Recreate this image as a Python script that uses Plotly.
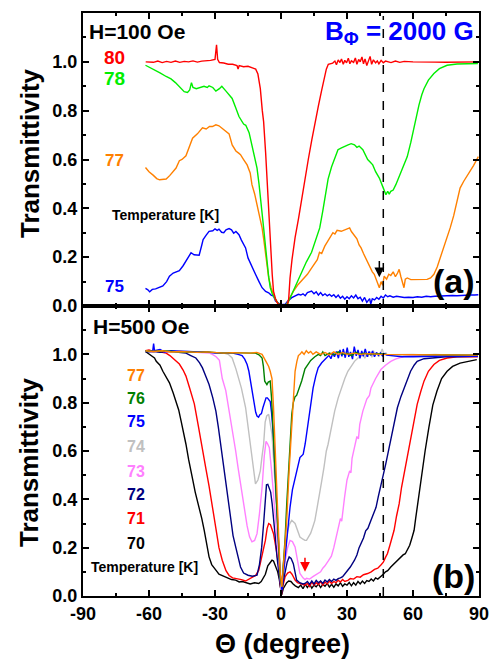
import plotly.graph_objects as go
from plotly.subplots import make_subplots

# ---------------- data: (theta [deg], transmittivity) ----------------
# Panel (a): H = 100 Oe
t80 = [(-61.5, 1.0), (-58, 0.998), (-56, 1.003), (-54, 0.997), (-52, 1.002), (-50, 0.998), (-48, 1.003),
       (-46, 0.998), (-44, 1.002), (-42, 1.0), (-40, 1.004), (-38, 0.999), (-36, 1.003), (-34, 1.004),
       (-32, 1.006), (-30, 1.01), (-29.3, 1.07), (-28.8, 1.01), (-28, 0.997), (-26, 0.995), (-24, 0.99),
       (-22, 0.99), (-20, 0.985), (-19.5, 0.97), (-19, 0.985), (-17, 0.98), (-15, 0.982), (-13, 0.975),
       (-11.5, 0.97), (-10.5, 0.95), (-9.4, 0.89), (-8.5, 0.8), (-7.9, 0.755), (-7, 0.63), (-6.4, 0.52),
       (-5.6, 0.38), (-4.9, 0.25), (-4, 0.13), (-3.4, 0.06), (-2.5, 0.03), (-1.5, 0.01), (0, 0.005),
       (1.5, 0.005), (3, 0.006), (3.5, 0.03), (4.1, 0.115), (5, 0.19), (6.4, 0.28), (8, 0.36), (9.4, 0.44),
       (11, 0.52), (12.4, 0.6), (14, 0.68), (15.4, 0.75), (17, 0.82), (18.4, 0.88), (19.5, 0.93),
       (20.6, 0.97), (21.5, 0.99), (22.8, 0.995), (23.5, 0.995), (24.5, 1.003), (25.2, 0.988),
       (26, 1.008), (26.8, 0.997), (27.5, 1.012), (28.3, 0.99), (29, 1.006), (29.8, 0.996),
       (30.6, 1.015), (31.3, 0.992), (32, 1.004), (33, 0.998), (33.8, 1.016), (34.5, 0.99),
       (35.3, 1.01), (36, 1.0), (36.8, 1.02), (37.5, 0.992), (38.2, 1.012), (39, 0.985), (39.8, 1.005),
       (40.5, 1.022), (41.2, 0.99), (42, 1.008), (43, 0.996), (43.8, 1.004), (44.5, 0.992),
       (45.5, 1.006), (46.5, 0.996), (47.5, 1.003), (50, 0.997), (52, 1.003), (54, 0.998), (56, 1.002),
       (60, 1.0), (65, 0.998), (70, 0.999), (75, 0.998), (80, 0.999), (85, 1.0), (90, 1.0)]

t78 = [(-61.6, 0.986), (-59, 0.975), (-57, 0.965), (-55, 0.955), (-52.2, 0.94), (-50, 0.93), (-48, 0.915),
       (-46, 0.895), (-44, 0.878), (-42.5, 0.875), (-41.5, 0.885), (-40.7, 0.915), (-40, 0.895),
       (-38.5, 0.89), (-37, 0.894), (-35, 0.9), (-33.5, 0.895), (-32.7, 0.902), (-31, 0.895),
       (-29.6, 0.88), (-28, 0.89), (-26.9, 0.9), (-25, 0.88), (-23.5, 0.862), (-22.2, 0.85),
       (-20.5, 0.81), (-19.1, 0.776), (-17, 0.745), (-16, 0.74), (-14.5, 0.71), (-13.2, 0.66),
       (-12, 0.62), (-10.9, 0.565), (-10, 0.5), (-9.4, 0.44), (-8.6, 0.38), (-7.9, 0.32), (-7, 0.24),
       (-6.4, 0.18), (-5.6, 0.12), (-4.9, 0.075), (-4, 0.05), (-3, 0.035), (-2, 0.02), (-1.1, 0.008),
       (0.5, 0.005), (2, 0.005), (3, 0.01), (4, 0.03), (4.9, 0.048), (6, 0.075), (7.5, 0.105),
       (9.4, 0.143), (11.5, 0.18), (13.9, 0.22), (15.5, 0.26), (17.6, 0.32), (19, 0.39), (19.9, 0.44),
       (21.4, 0.52), (23, 0.57), (24.5, 0.61), (25.9, 0.64), (27.5, 0.648), (29, 0.655), (30.5, 0.66),
       (31.9, 0.665), (33.4, 0.66), (34.5, 0.65), (35.5, 0.655), (37.2, 0.64), (38.5, 0.615),
       (39.4, 0.6), (40.5, 0.59), (41.7, 0.578), (43, 0.55), (44.7, 0.524), (46.2, 0.49), (47, 0.47),
       (47.7, 0.456), (48.5, 0.47), (49.2, 0.458), (49.9, 0.47), (51, 0.475), (52.2, 0.497),
       (53.3, 0.52), (54.4, 0.55), (56, 0.58), (57.4, 0.612), (59, 0.67), (60.5, 0.73), (61.5, 0.78),
       (62.7, 0.823), (64, 0.865), (65, 0.89), (67, 0.925), (69.5, 0.952), (72, 0.972), (75.5, 0.986),
       (80, 0.991), (85, 0.993), (89.5, 0.993)]

t77 = [(-61.6, 0.567), (-60, 0.55), (-58, 0.535), (-56.5, 0.522), (-55.2, 0.517), (-53.5, 0.518),
       (-52.2, 0.52), (-50.5, 0.535), (-49, 0.55), (-47.7, 0.565), (-46.2, 0.595), (-45, 0.6),
       (-43.2, 0.615), (-42, 0.645), (-40.2, 0.687), (-38, 0.705), (-35.7, 0.73), (-34, 0.725),
       (-32.5, 0.735), (-31.2, 0.735), (-29.6, 0.742), (-28.2, 0.738), (-27, 0.73), (-25.5, 0.72),
       (-23.6, 0.705), (-22.2, 0.66), (-20.5, 0.635), (-19.1, 0.625), (-18.4, 0.62), (-17, 0.6),
       (-15.4, 0.578), (-14, 0.545), (-13.2, 0.497), (-12, 0.46), (-10.9, 0.415), (-9.5, 0.36),
       (-8.6, 0.32), (-7.8, 0.27), (-7.1, 0.224), (-6.3, 0.165), (-5.6, 0.115), (-4.5, 0.075),
       (-3.4, 0.048), (-2.5, 0.025), (-1, 0.005), (1, 0.005), (2.5, 0.005), (3.5, 0.025), (4.5, 0.045),
       (5.6, 0.06), (7.5, 0.085), (9, 0.1), (10.9, 0.115), (12, 0.13), (13.5, 0.15), (15.4, 0.175),
       (16.5, 0.19), (17.5, 0.22), (18.5, 0.215), (19.9, 0.245), (21, 0.26), (22, 0.275), (23.6, 0.3),
       (24.5, 0.295), (25.5, 0.31), (27.4, 0.306), (28.5, 0.31), (29.5, 0.315), (31.2, 0.32),
       (32, 0.305), (33.4, 0.286), (34.5, 0.275), (35.5, 0.25), (36.4, 0.238), (37.5, 0.215),
       (38.5, 0.195), (39.4, 0.184), (40.5, 0.16), (41.5, 0.14), (42.4, 0.13), (43.5, 0.105),
       (44.7, 0.075), (45.5, 0.1), (46.2, 0.085), (46.9, 0.122), (48, 0.11), (49, 0.13), (49.9, 0.125),
       (51, 0.14), (52, 0.12), (53, 0.135), (53.7, 0.15), (54.5, 0.12), (55.2, 0.1), (55.9, 0.075),
       (56.5, 0.11), (57.4, 0.115), (59, 0.108), (61.9, 0.109), (64, 0.107), (66.4, 0.109), (68, 0.115),
       (69.5, 0.13), (71, 0.16), (72.4, 0.197), (74, 0.24), (75.5, 0.28), (76.9, 0.32), (78.5, 0.37),
       (80, 0.43), (81.4, 0.483), (83, 0.51), (84.5, 0.53), (85.9, 0.55), (87.5, 0.575), (89.7, 0.612)]

t75 = [(-61.6, 0.072), (-60.5, 0.066), (-59.7, 0.058), (-58.5, 0.068), (-57, 0.07), (-55, 0.076),
       (-53.7, 0.082), (-52, 0.1), (-50.7, 0.122), (-49, 0.135), (-47.5, 0.14), (-46.2, 0.145),
       (-44.5, 0.165), (-43.2, 0.184), (-42, 0.2), (-40.9, 0.218), (-39.5, 0.21), (-38, 0.21),
       (-37.2, 0.208), (-36, 0.25), (-35.4, 0.272), (-34, 0.29), (-32.7, 0.306), (-31, 0.308),
       (-30, 0.316), (-29, 0.31), (-28.2, 0.315), (-27, 0.302), (-26, 0.3), (-25, 0.312), (-23.6, 0.317),
       (-22.5, 0.312), (-21.5, 0.298), (-20.5, 0.305), (-19.1, 0.292), (-18, 0.27), (-17, 0.25),
       (-16.1, 0.238), (-15, 0.197), (-13.5, 0.165), (-11.6, 0.13), (-10, 0.1), (-8.6, 0.075),
       (-7, 0.06), (-5.6, 0.054), (-4.5, 0.045), (-3.4, 0.041), (-2.5, 0.02), (-1.1, 0.013), (0, 0.005),
       (1.9, 0.007), (3, 0.02), (4.9, 0.034), (6, 0.04), (7.9, 0.048), (9, 0.045), (10, 0.05),
       (11, 0.042), (12, 0.055), (13.9, 0.061), (15, 0.05), (16, 0.058), (17, 0.045), (18, 0.055),
       (19, 0.043), (20, 0.05), (21, 0.042), (22, 0.048), (23, 0.04), (24, 0.046), (25, 0.035),
       (26, 0.045), (27, 0.032), (28, 0.04), (29, 0.028), (30, 0.038), (31, 0.03), (32, 0.042),
       (33, 0.033), (34, 0.045), (35, 0.03), (36, 0.036), (37, 0.02), (38, 0.035), (39, 0.015),
       (40.3, 0.03), (40.8, 0.008), (41.5, 0.03), (42.5, 0.025), (43.5, 0.035), (44.5, 0.028),
       (45.5, 0.04), (46.5, 0.033), (47.5, 0.045), (48.5, 0.038), (49.5, 0.042), (51, 0.036),
       (52.5, 0.04), (54, 0.038), (56, 0.035), (58, 0.036), (60, 0.035), (62, 0.038), (64, 0.036),
       (66, 0.04), (68, 0.038), (70, 0.04), (72, 0.041), (74, 0.04), (76, 0.042), (78, 0.043),
       (80, 0.042), (82, 0.044), (84, 0.044), (86, 0.045), (88, 0.045), (89.7, 0.046)]

# Panel (b): H = 500 Oe
b70 = [(-61.6, 1.012), (-60.5, 1.005), (-59.5, 0.995), (-58.9, 0.992), (-57.5, 0.985), (-56.7, 0.971),
       (-55, 0.955), (-53.7, 0.93), (-52.2, 0.905), (-50.7, 0.882), (-49, 0.84), (-47.7, 0.807),
       (-46.5, 0.77), (-45.4, 0.724), (-44.2, 0.675), (-43.2, 0.628), (-42, 0.565), (-40.9, 0.505),
       (-40.2, 0.485), (-39, 0.43), (-37.2, 0.367), (-36, 0.32), (-34.9, 0.272), (-33.8, 0.215),
       (-32.7, 0.162), (-31.5, 0.13), (-30.5, 0.115), (-29.6, 0.107), (-28.2, 0.09), (-27, 0.085),
       (-25.1, 0.078), (-24, 0.075), (-22.5, 0.068), (-20.6, 0.066), (-19, 0.058), (-17.5, 0.06),
       (-15.4, 0.052), (-14, 0.05), (-12, 0.055), (-10.1, 0.052), (-9, 0.06), (-8, 0.075), (-7.1, 0.09),
       (-6, 0.125), (-5, 0.14), (-4.1, 0.148), (-3.4, 0.145), (-2.5, 0.125), (-1.5, 0.1), (-0.8, 0.07),
       (-0.2, 0.02), (0.3, 0.005), (1, 0.03), (1.9, 0.045), (2.6, 0.055), (3.5, 0.062), (4.5, 0.06),
       (5.5, 0.05), (6.5, 0.042), (7.9, 0.035), (9, 0.045), (10, 0.03), (11, 0.048), (12, 0.035),
       (13, 0.05), (14, 0.032), (15, 0.045), (16, 0.038), (17, 0.05), (18, 0.035), (19, 0.048),
       (20, 0.04), (21, 0.052), (22, 0.037), (23, 0.048), (24, 0.036), (25, 0.05), (26, 0.042),
       (27, 0.055), (28, 0.04), (29, 0.05), (30, 0.045), (31, 0.056), (32, 0.042), (33, 0.055),
       (34, 0.045), (35, 0.06), (36, 0.05), (37, 0.062), (38, 0.052), (39, 0.064), (40, 0.06),
       (41, 0.07), (42, 0.062), (43, 0.075), (44, 0.07), (45.4, 0.08), (46.5, 0.09), (47.5, 0.1),
       (48.5, 0.105), (49.9, 0.12), (51, 0.13), (52, 0.14), (53, 0.145), (54.4, 0.162), (55.5, 0.17),
       (56.5, 0.175), (57.4, 0.189), (58.5, 0.21), (59.5, 0.24), (60.5, 0.272), (61.2, 0.32),
       (61.9, 0.367), (63, 0.43), (64.2, 0.505), (65.5, 0.6), (67.2, 0.697), (69, 0.79), (70.9, 0.848),
       (73, 0.9), (75.5, 0.93), (78, 0.95), (81.4, 0.964), (85, 0.972), (89, 0.978)]

b71 = [(-61.6, 1.015), (-60, 1.018), (-58, 1.012), (-56, 1.015), (-54, 1.008), (-52.2, 1.005),
       (-50.5, 0.995), (-49.2, 0.985), (-47.5, 0.97), (-46.2, 0.96), (-44.5, 0.935), (-43.2, 0.91),
       (-41.5, 0.86), (-39.4, 0.795), (-37.5, 0.7), (-35.7, 0.6), (-34, 0.52), (-32.7, 0.455),
       (-31.2, 0.36), (-29.6, 0.28), (-28.2, 0.2), (-26.7, 0.148), (-25, 0.105), (-23.6, 0.085),
       (-22, 0.075), (-20, 0.072), (-18, 0.068), (-16.1, 0.062), (-14.6, 0.07), (-13, 0.075),
       (-11.5, 0.085), (-10.1, 0.107), (-9, 0.15), (-8, 0.195), (-7.1, 0.23), (-6.3, 0.28), (-5.6, 0.3),
       (-4.8, 0.295), (-4, 0.27), (-3.4, 0.258), (-2.5, 0.21), (-1.8, 0.17), (-1.1, 0.134), (-0.5, 0.06),
       (0.2, 0.005), (0.8, 0.04), (1.9, 0.08), (3, 0.095), (4.1, 0.1), (5, 0.09), (6.4, 0.066),
       (7.5, 0.055), (9, 0.05), (10.9, 0.045), (12, 0.052), (13, 0.04), (14, 0.058), (15, 0.045),
       (16, 0.055), (17, 0.048), (18, 0.06), (19, 0.045), (20, 0.058), (21, 0.05), (22, 0.062),
       (23, 0.052), (24, 0.06), (25, 0.055), (26, 0.065), (27, 0.058), (28, 0.068), (29, 0.06),
       (30.4, 0.065), (31.5, 0.072), (33, 0.07), (34.5, 0.08), (36, 0.078), (37.5, 0.088),
       (39.4, 0.093), (41, 0.1), (42.5, 0.11), (44, 0.115), (45.4, 0.128), (46.5, 0.14), (47.5, 0.16),
       (48.4, 0.176), (49.5, 0.21), (50.5, 0.24), (51.4, 0.272), (52.5, 0.33), (53.7, 0.381),
       (54.8, 0.45), (55.9, 0.505), (57.5, 0.59), (58.9, 0.655), (60.5, 0.73), (61.9, 0.793),
       (63.5, 0.845), (65, 0.889), (67, 0.93), (69.5, 0.958), (72, 0.975), (75.5, 0.985), (80, 0.99),
       (85, 0.991), (89.5, 0.99)]

b72 = [(-61.6, 1.01), (-58, 1.012), (-55, 1.008), (-52, 1.012), (-49, 1.01), (-46, 1.008),
       (-43.2, 1.005), (-41, 0.995), (-38.7, 0.985), (-37, 0.965), (-35.7, 0.944), (-34, 0.905),
       (-32.7, 0.875), (-31, 0.82), (-29.6, 0.765), (-28.5, 0.7), (-27.4, 0.628), (-26.6, 0.57),
       (-25.9, 0.518), (-25.1, 0.477), (-24, 0.39), (-22.9, 0.313), (-21.8, 0.25), (-20.6, 0.203),
       (-19.5, 0.155), (-18.4, 0.12), (-17, 0.095), (-15, 0.086), (-13, 0.082), (-10.9, 0.086),
       (-9.8, 0.13), (-8.8, 0.2), (-7.9, 0.3), (-7.2, 0.4), (-6.6, 0.46), (-6, 0.462), (-5.3, 0.44),
       (-4.7, 0.43), (-4, 0.38), (-3.3, 0.32), (-2.6, 0.244), (-1.8, 0.16), (-1, 0.09), (-0.4, 0.038),
       (0.2, 0.008), (1, 0.06), (1.9, 0.107), (2.8, 0.14), (3.7, 0.162), (4.6, 0.155), (5.6, 0.134),
       (6.4, 0.09), (7.1, 0.066), (8.5, 0.055), (10, 0.05), (10.9, 0.052), (12, 0.06), (13, 0.048),
       (14, 0.062), (15, 0.05), (16, 0.065), (17, 0.055), (18, 0.062), (19, 0.052), (20, 0.066),
       (21, 0.058), (22, 0.068), (23, 0.06), (24, 0.07), (25, 0.065), (26, 0.072), (27, 0.075),
       (28, 0.08), (28.9, 0.09), (30.4, 0.107), (31.5, 0.12), (33.4, 0.148), (34.5, 0.17), (35.5, 0.2),
       (36.4, 0.217), (37.5, 0.24), (38.5, 0.27), (39.5, 0.28), (40.9, 0.313), (42, 0.34),
       (43.2, 0.367), (44.2, 0.41), (45.4, 0.464), (46.9, 0.518), (47.7, 0.55), (48.8, 0.6),
       (49.9, 0.656), (51.5, 0.72), (52.9, 0.779), (54.5, 0.825), (55.9, 0.861), (57.5, 0.9),
       (58.9, 0.93), (60.5, 0.955), (61.9, 0.971), (65, 0.982), (69.5, 0.985), (75, 0.99), (80, 0.99),
       (85, 0.992), (89.5, 0.992)]

b73 = [(-61.6, 1.015), (-58, 1.01), (-55, 1.015), (-52, 1.01), (-49, 1.012), (-46, 1.008), (-43, 1.01),
       (-40, 1.008), (-37, 1.005), (-34, 1.006), (-32.5, 1.005), (-31.2, 1.0), (-29.5, 0.99),
       (-28, 0.975), (-26.7, 0.9), (-25.1, 0.85), (-23.6, 0.77), (-22.2, 0.7), (-20.6, 0.6),
       (-19.5, 0.53), (-18.5, 0.47), (-17.7, 0.423), (-16.5, 0.35), (-15.4, 0.29), (-14.3, 0.245),
       (-13.2, 0.224), (-12, 0.23), (-10.9, 0.258), (-9.8, 0.34), (-8.6, 0.45), (-7.6, 0.58),
       (-6.8, 0.64), (-6.1, 0.63), (-5.3, 0.614), (-4.3, 0.52), (-3.4, 0.423), (-2.2, 0.3),
       (-1.1, 0.176), (-0.4, 0.08), (0.1, 0.025), (0.8, 0.09), (1.9, 0.148), (3, 0.2), (4.1, 0.23),
       (5.2, 0.225), (6.4, 0.203), (7.5, 0.14), (8.6, 0.093), (10, 0.075), (10.9, 0.068), (11.6, 0.073),
       (13, 0.07), (14.5, 0.08), (15.5, 0.085), (16.9, 0.093), (18, 0.1), (19, 0.115), (20, 0.125),
       (21.5, 0.145), (22.9, 0.165), (24, 0.2), (25, 0.24), (25.9, 0.272), (27, 0.32), (27.6, 0.31),
       (28.2, 0.37), (28.9, 0.409), (30, 0.48), (31.2, 0.518), (31.8, 0.51), (32.3, 0.57), (33.4, 0.615),
       (34.5, 0.66), (35.2, 0.65), (35.8, 0.71), (37.2, 0.765), (39, 0.815), (40.2, 0.83), (40.9, 0.861),
       (43, 0.9), (45.4, 0.937), (47.5, 0.955), (49.9, 0.971), (52, 0.98), (55.9, 0.992), (60, 0.995),
       (65, 0.997), (70, 0.997), (75, 0.998), (80, 0.998), (85, 0.997), (89.5, 0.995)]

b74 = [(-61.6, 1.015), (-58, 1.012), (-54, 1.015), (-50, 1.01), (-46, 1.012), (-42, 1.008), (-38, 1.01),
       (-34, 1.008), (-30, 1.005), (-26, 1.005), (-24, 1.0), (-22.2, 0.985), (-20.5, 0.94), (-19.1, 0.9),
       (-18, 0.86), (-16.1, 0.78), (-15, 0.7), (-13.9, 0.614), (-12.8, 0.53), (-11.6, 0.464),
       (-10.5, 0.48), (-9.4, 0.518), (-8.6, 0.58), (-7.9, 0.628), (-7.2, 0.72), (-6.5, 0.745),
       (-5.6, 0.752), (-4.9, 0.72), (-4.1, 0.67), (-3.4, 0.57), (-2.6, 0.45), (-1.8, 0.3), (-1.1, 0.176),
       (-0.4, 0.07), (0.1, 0.025), (0.8, 0.12), (1.9, 0.203), (3, 0.27), (4, 0.3), (4.9, 0.313),
       (6.4, 0.3), (7.5, 0.27), (8.6, 0.244), (10, 0.235), (10.9, 0.23), (11.6, 0.23), (12.5, 0.245),
       (13.5, 0.26), (14.6, 0.29), (15.4, 0.313), (16.5, 0.37), (17.6, 0.42), (18.4, 0.47),
       (19.5, 0.53), (20.6, 0.6), (21.4, 0.628), (22.9, 0.7), (24.4, 0.765), (26, 0.82), (27.4, 0.861),
       (29, 0.9), (30.4, 0.93), (31.8, 0.95), (33.4, 0.971), (35, 0.985), (36.4, 0.992), (37.3, 1.0),
       (38.1, 0.984), (39, 1.006), (39.6, 0.99), (40.4, 1.012), (41.3, 0.988), (42, 1.015), (42.8, 0.997),
       (43.5, 1.008), (44.4, 0.99), (45.3, 1.004), (46, 1.022), (46.8, 1.0), (47.7, 1.006), (48.5, 0.996),
       (50, 0.999), (55, 1.0), (60, 1.0), (65, 0.998), (70, 1.0), (75, 0.998), (80, 0.998), (85, 0.997),
       (89.5, 0.997)]

b75 = [(-61.6, 1.015), (-58.3, 1.015), (-57.9, 1.045), (-57.5, 1.015), (-55, 1.02), (-53, 1.01),
       (-50, 1.015), (-46, 1.012), (-42, 1.012), (-38, 1.01), (-34, 1.01), (-30, 1.005), (-26, 1.005),
       (-22, 1.005), (-19.5, 1.0), (-17.7, 0.995), (-16.5, 0.98), (-15.4, 0.958), (-14.6, 0.93),
       (-13.9, 0.889), (-13, 0.83), (-12.4, 0.793), (-11.5, 0.76), (-10.9, 0.745), (-10.2, 0.74),
       (-9.6, 0.75), (-8.9, 0.755), (-8.2, 0.78), (-7.5, 0.805), (-6.8, 0.82), (-6.2, 0.82),
       (-5.5, 0.81), (-4.9, 0.805), (-4.3, 0.76), (-3.4, 0.656), (-2.6, 0.5), (-1.9, 0.381),
       (-1.1, 0.22), (-0.4, 0.093), (0.4, 0.025), (1.2, 0.1), (1.9, 0.148), (3, 0.26), (4.1, 0.367),
       (5.2, 0.44), (6.4, 0.491), (7.5, 0.54), (8.6, 0.573), (9.4, 0.58), (10.1, 0.587), (11, 0.63),
       (12.4, 0.724), (13.5, 0.79), (14.6, 0.861), (15.8, 0.91), (16.9, 0.944), (18.5, 0.965),
       (19.9, 0.978), (21, 0.985), (21.8, 0.996), (22.7, 0.982), (23.6, 1.006), (24.3, 0.99),
       (25.2, 1.012), (26.1, 0.984), (26.8, 1.018), (27.7, 0.992), (28.3, 1.022), (29.2, 0.986),
       (30.1, 1.028), (30.8, 0.99), (31.6, 1.01), (32.5, 0.98), (33.3, 1.032), (34.2, 0.994),
       (35, 1.018), (35.9, 0.984), (36.7, 1.014), (37.4, 0.992), (38.3, 1.022), (39.2, 0.99),
       (40, 1.012), (40.9, 0.996), (41.6, 1.014), (42.5, 0.99), (43.4, 1.008), (44.3, 0.996),
       (45.2, 1.006), (46.1, 0.994), (47, 1.003), (48, 0.997), (50, 0.995), (55, 0.99), (60, 0.99),
       (65, 0.992), (70, 0.992), (75, 0.993), (80, 0.993), (85, 0.993), (89.5, 0.992)]

b76 = [(-61.6, 1.015), (-58, 1.012), (-54, 1.015), (-50, 1.012), (-46, 1.01), (-42, 1.01), (-38, 1.008),
       (-34, 1.01), (-30, 1.008), (-26, 1.005), (-22, 1.007), (-18, 1.005), (-14, 1.005),
       (-11.6, 1.005), (-10, 0.998), (-8.6, 0.985), (-8, 0.95), (-7.4, 0.889), (-6.9, 0.878),
       (-6.4, 0.875), (-5.8, 0.885), (-4.9, 0.889), (-4.3, 0.82), (-3.8, 0.724), (-3.2, 0.6),
       (-2.6, 0.45), (-1.8, 0.3), (-1.1, 0.176), (-0.4, 0.08), (0.4, 0.038), (1.2, 0.14), (1.9, 0.244),
       (2.6, 0.38), (3.4, 0.518), (4.1, 0.64), (4.9, 0.752), (5.6, 0.8), (6.4, 0.825), (7.1, 0.83),
       (7.9, 0.85), (8.6, 0.87), (9.4, 0.89), (10.9, 0.94), (12.4, 0.958), (13.5, 0.975), (15.4, 0.99),
       (17, 1.0), (18, 0.995), (19, 1.01), (20, 0.995), (22, 1.005), (24, 0.998), (26, 1.01), (28, 1.0),
       (30, 1.005), (32, 0.995), (34, 1.008), (36, 1.0), (38, 1.005), (40, 1.0), (44, 1.003), (48, 1.0),
       (55, 1.0), (60, 0.998), (70, 0.998), (80, 0.998), (89.5, 0.997)]

b77 = [(-61.6, 1.015), (-58, 1.012), (-54, 1.015), (-50, 1.01), (-46, 1.012), (-42, 1.01), (-38, 1.008),
       (-34, 1.01), (-30, 1.008), (-26, 1.005), (-22, 1.007), (-18, 1.005), (-14, 1.005), (-11, 1.008),
       (-10.1, 1.005), (-8.6, 1.0), (-7.1, 0.975), (-5.6, 0.95), (-4.9, 0.93), (-4.1, 0.9),
       (-3.4, 0.78), (-2.6, 0.587), (-1.8, 0.4), (-1.1, 0.244), (-0.4, 0.1), (0.4, 0.038), (1.4, 0.15),
       (2.6, 0.313), (3.7, 0.52), (4.9, 0.724), (5.6, 0.85), (6.4, 0.93), (7.2, 0.97), (7.9, 0.995),
       (8.6, 1.0), (9.5, 1.01), (10.5, 1.0), (11.5, 1.015), (12.5, 1.005), (13.5, 1.012), (14.5, 1.0),
       (16, 1.01), (18, 1.0), (20, 1.008), (22, 0.998), (24, 1.01), (26, 1.0), (28, 1.008), (30, 1.0),
       (33, 1.005), (36, 1.0), (40, 1.003), (45, 1.0), (50, 1.0), (55, 1.0), (60, 0.998), (70, 0.998),
       (80, 0.998), (89.5, 0.997)]

# temperature labels, curve colours
top_series = [("75", t75, "#0000ff"), ("77", t77, "#ff8000"), ("78", t78, "#00ee00"), ("80", t80, "#ff0000")]
bottom_series = [("70", b70, "#000000"), ("71", b71, "#ff0000"), ("72", b72, "#000080"),
                 ("73", b73, "#ff80ff"), ("74", b74, "#c0c0c0"), ("75", b75, "#0000ff"),
                 ("76", b76, "#008000"), ("77", b77, "#ff8000")]

x_ticks = [-90, -60, -30, 0, 30, 60, 90]
y_ticks = [0.0, 0.2, 0.4, 0.6, 0.8, 1.0]
B_phi_angle = 46.5

FONT = "Liberation Sans, Arial, sans-serif"

fig = make_subplots(rows=2, cols=1, shared_xaxes=True, vertical_spacing=0,
                    row_heights=[0.5026, 0.4974])

for name, pts, col in top_series:
    fig.add_trace(go.Scatter(x=[p[0] for p in pts], y=[p[1] for p in pts], mode="lines",
                             line=dict(color=col, width=1.4), name=name, showlegend=False),
                  row=1, col=1)
for name, pts, col in bottom_series:
    fig.add_trace(go.Scatter(x=[p[0] for p in pts], y=[p[1] for p in pts], mode="lines",
                             line=dict(color=col, width=1.4), name=name, showlegend=False),
                  row=2, col=1)

axis_common = dict(showline=True, linewidth=2, linecolor="black", mirror="ticks",
                   ticks="inside", ticklen=6, tickwidth=1.5, tickcolor="black",
                   showgrid=False, zeroline=False,
                   tickfont=dict(family=FONT, size=18, color="black", weight="bold"))

for r in (1, 2):
    fig.update_xaxes(range=[-90, 90], tickvals=x_ticks, ticktext=[str(v) for v in x_ticks],
                     minor=dict(ticks="inside", dtick=15, tick0=-90, ticklen=3, tickwidth=1.5,
                                tickcolor="black"),
                     **axis_common, row=r, col=1)
    fig.update_yaxes(range=[0, 1.2], tickvals=y_ticks, ticktext=[f"{v:.1f}" for v in y_ticks],
                     minor=dict(ticks="inside", dtick=0.1, tick0=0, ticklen=3, tickwidth=1.5,
                                tickcolor="black"),
                     **axis_common, row=r, col=1)
fig.update_xaxes(showticklabels=False, row=1, col=1)

ann = []

def label(text, x, y, color, size, xref, yref, xanchor="center"):
    ann.append(dict(text=text, x=x, y=y, xref=xref, yref=yref, showarrow=False,
                    xanchor=xanchor, yanchor="middle",
                    font=dict(family=FONT, size=size, color=color, weight="bold")))

# panel (a) labels
label("H=100 Oe", -88.3, 1.124, "black", 21, "x", "y", "left")
label("80", -75.7, 1.017, "#ff0000", 19, "x", "y")
label("78", -75.7, 0.932, "#00ee00", 19, "x", "y")
label("77", -75.9, 0.595, "#ff8000", 17, "x", "y")
label("Temperature [K]", -52.7, 0.371, "black", 14, "x", "y")
label("75", -75.9, 0.078, "#0000ff", 17, "x", "y")
label("B<sub>Φ</sub> = 2000 G", 88.8, 1.12, "#0000ff", 26, "x", "y", "right")
label("(a)", 89.0, 0.102, "black", 34, "x", "y", "right")

# panel (b) labels
label("H=500 Oe", -86.4, 1.116, "black", 21, "x2", "y2", "left")
for txt, yv, col in [("77", 0.914, "#ff8000"), ("76", 0.818, "#008000"), ("75", 0.724, "#0000ff"),
                     ("74", 0.619, "#c0c0c0"), ("73", 0.516, "#ff80ff"), ("72", 0.42, "#000080"),
                     ("71", 0.32, "#ff0000"), ("70", 0.219, "black")]:
    label(txt, -65.7, yv, col, 16, "x2", "y2")
label("Temperature [K]", -61.9, 0.121, "black", 14, "x2", "y2")
label("(b)", 89.0, 0.082, "black", 34, "x2", "y2", "right")

# axis titles
for yc in (0.759, 0.229):
    ann.append(dict(text="Transmittivity", x=-0.135, y=yc, xref="paper", yref="paper",
                    showarrow=False, textangle=-90, xanchor="center", yanchor="middle",
                    font=dict(family=FONT, size=26, color="black", weight="bold")))
ann.append(dict(text="Θ (degree)", x=0.504, y=-0.083, xref="paper", yref="paper",
                showarrow=False, xanchor="center", yanchor="middle",
                font=dict(family=FONT, size=27, color="black", weight="bold")))

# arrows marking the field-matching angle
ann.append(dict(x=44.7, y=0.118, ax=44.7, ay=0.19, xref="x", yref="y", axref="x", ayref="y",
                text="", showarrow=True, arrowhead=2, arrowsize=1.3, arrowwidth=1.5, arrowcolor="black"))
ann.append(dict(x=10.9, y=0.1, ax=10.9, ay=0.165, xref="x2", yref="y2", axref="x2", ayref="y2",
                text="", showarrow=True, arrowhead=2, arrowsize=1.3, arrowwidth=1.5, arrowcolor="#ff0000"))

fig.update_layout(
    width=500, height=662,
    margin=dict(l=83, r=18, t=11, b=66),
    paper_bgcolor="white", plot_bgcolor="white",
    annotations=ann,
    shapes=[dict(type="line", xref="x2", yref="paper", x0=B_phi_angle, x1=B_phi_angle,
                 y0=0, y1=0.995, line=dict(color="black", width=1.5, dash="dash"))],
)

fig.write_html("out.html")
